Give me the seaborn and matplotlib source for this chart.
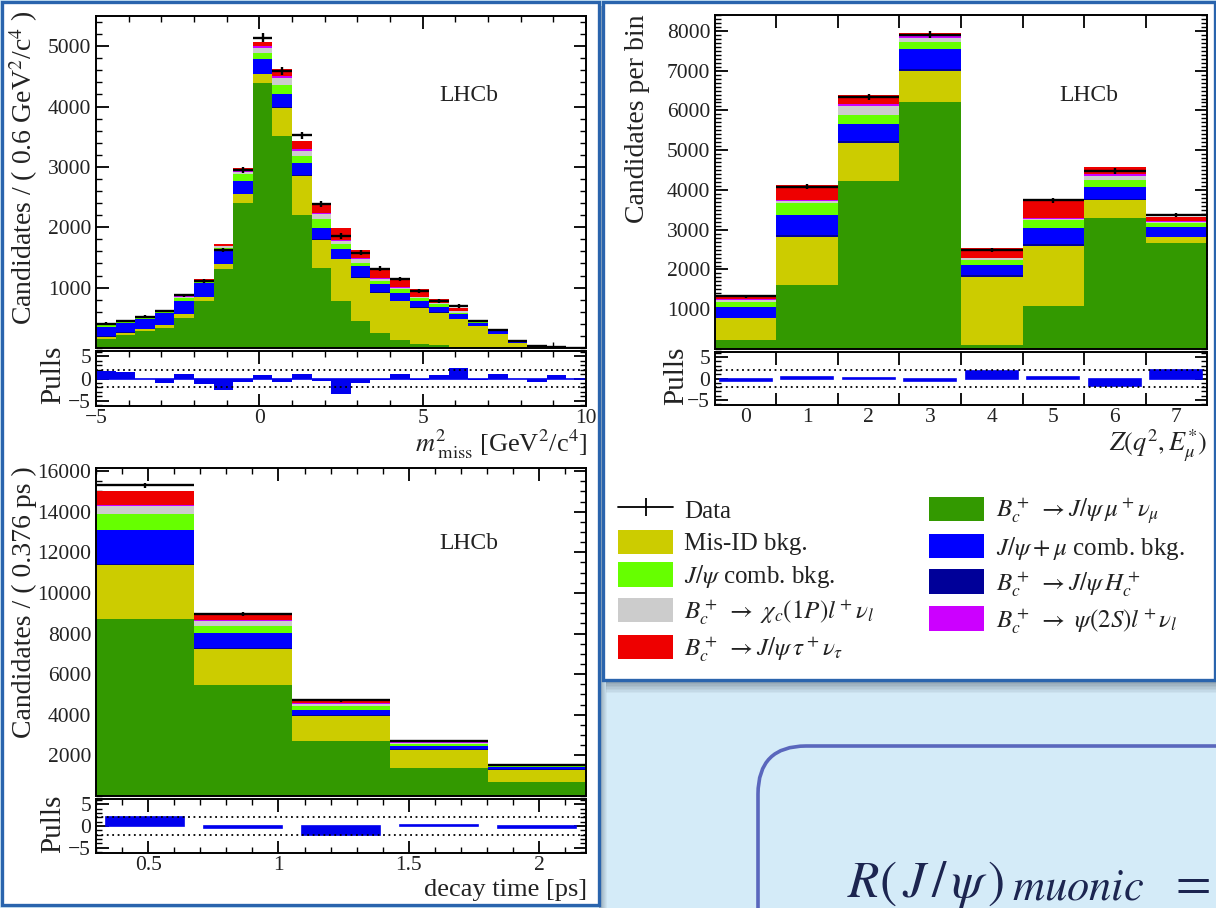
import numpy as np
import pandas as pd
import matplotlib
matplotlib.use("Agg")
import matplotlib.pyplot as plt
import seaborn as sns
from matplotlib.patches import Rectangle, FancyBboxPatch, Patch
from matplotlib.lines import Line2D
from matplotlib.ticker import MultipleLocator, FixedLocator, FuncFormatter

# ------------------------------------------------------------------ binning
mm2_edges = [round(-5.0 + 0.6 * i, 3) for i in range(26)]  # 0.6 GeV^2/c^4 bins
time_edges = [0.300, 0.676, 1.052, 1.428, 1.804, 2.180]     # 0.376 ps bins
z_edges = [-0.5, 0.5, 1.5, 2.5, 3.5, 4.5, 5.5, 6.5, 7.5]    # Z(q^2, E*_mu) bins

# ------------------------------------------------------------------ m^2_miss
mm2_mu       = [155, 210, 280, 337, 502, 778, 1303, 2407, 4394, 3511, 2197, 1330, 778, 447, 254, 132, 72, 44, 22, 11, 3, 0, 0, 0, 0]
mm2_misid    = [33, 44, 30, 38, 56, 67, 83, 138, 138, 469, 651, 458, 690, 718, 662, 646, 596, 541, 453, 353, 223, 88, 22, 5, 1]
mm2_hc       = [5, 5, 6, 6, 8, 8, 8, 10, 12, 10, 10, 10, 8, 8, 6, 6, 5, 4, 3, 2, 2, 1, 0, 0, 0]
mm2_jpsimu   = [160, 161, 170, 204, 212, 229, 240, 211, 236, 210, 211, 195, 158, 185, 132, 132, 105, 95, 80, 42, 53, 20, 6, 2, 0]
mm2_jpsicomb = [22, 25, 30, 22, 50, 27, 30, 110, 110, 149, 110, 138, 83, 55, 55, 55, 44, 39, 28, 22, 10, 5, 2, 1, 0]
mm2_chic     = [8, 10, 8, 12, 25, 12, 25, 38, 80, 127, 83, 83, 55, 55, 38, 28, 22, 17, 22, 10, 6, 3, 1, 0, 0]
mm2_psi2s    = [2, 3, 2, 3, 5, 3, 5, 10, 28, 38, 38, 28, 15, 15, 10, 8, 5, 4, 5, 3, 2, 1, 0, 0, 0]
mm2_tau      = [5, 5, 4, 8, 31, 13, 34, 51, 69, 101, 128, 154, 206, 140, 173, 141, 122, 62, 55, 20, 10, 3, 2, 0, 0]
mm2_data     = [405, 447, 519, 613, 872, 1110, 1623, 2948, 5139, 4587, 3522, 2379, 1855, 1579, 1314, 1137, 944, 778, 695, 447, 292, 116, 33, 11, 2]
mm2_pulls    = [1.7, 1.4, -0.1, -1.0, 1.0, -1.2, -2.5, -0.7, 0.8, -0.9, 1.0, -0.5, -3.4, -1.0, -0.3, 1.1, -0.4, 0.7, 2.3, -0.3, 1.0, -0.1, -0.7, 0.7, 0.0]

# ------------------------------------------------------------------ decay time
time_mu       = [8710, 5450, 2700, 1400, 700]
time_misid    = [2650, 1810, 1260, 880, 600]
time_hc       = [60, 40, 30, 20, 15]
time_jpsimu   = [1700, 730, 250, 150, 110]
time_jpsicomb = [770, 320, 180, 110, 60]
time_chic     = [380, 250, 120, 60, 30]
time_psi2s    = [60, 50, 30, 15, 10]
time_tau      = [700, 340, 200, 65, 25]
time_data     = [15300, 8950, 4720, 2700, 1540]
time_pulls    = [2.0, -0.5, -2.0, 0.2, -0.5]

# ------------------------------------------------------------------ Z(q^2, E*_mu)
z_mu       = [230, 1610, 4225, 6220, 100, 1080, 3285, 2655]
z_misid    = [540, 1215, 965, 780, 1720, 1510, 460, 150]
z_hc       = [20, 40, 40, 40, 30, 40, 40, 20]
z_jpsimu   = [275, 505, 430, 500, 265, 405, 295, 250]
z_jpsicomb = [125, 293, 225, 190, 125, 210, 170, 85]
z_chic     = [50, 60, 226, 100, 40, 30, 100, 40]
z_psi2s    = [15, 30, 60, 30, 20, 20, 40, 15]
z_tau      = [100, 370, 215, 95, 240, 470, 195, 115]
z_data     = [1330, 4080, 6345, 7900, 2500, 3740, 4480, 3370]
z_pulls    = [-0.6, 0.3, 0.2, -0.7, 1.7, 0.3, -1.8, 2.1]

# ------------------------------------------------------------------ style
COLORS = {
    "mu": "#339900", "misid": "#cccc00", "hc": "#000099", "jpsimu": "#0000ff",
    "jpsicomb": "#66ff00", "chic": "#cccccc", "psi2s": "#cc00ff", "tau": "#ee0000",
}
# listed from top of the stack to bottom
STACK_TOP_DOWN = ["tau", "psi2s", "chic", "jpsicomb", "jpsimu", "hc", "misid", "mu"]
PULL_BLUE = "#0000ee"
SLIDE_BG = "#d4ebf8"
FRAME_BLUE = "#2a64ad"
FORMULA_INK = "#1c2550"

sns.set_style("ticks")
plt.rcParams.update({
    "font.family": ["serif"],
    "font.serif": ["Liberation Serif", "DejaVu Serif"],
    "mathtext.fontset": "stix",
    "axes.linewidth": 1.4,
    "axes.edgecolor": "black",
    "text.color": "#222222",
    "xtick.color": "black",
    "ytick.color": "black",
    "xtick.labelcolor": "#222222",
    "ytick.labelcolor": "#222222",
})

W, H = 1216, 908
fig = plt.figure(figsize=(W / 100, H / 100), dpi=100, facecolor=SLIDE_BG)


def px_rect(x0, y0, x1, y1):
    return [x0 / W, 1 - y1 / H, (x1 - x0) / W, (y1 - y0) / H]


# background layer in pixel units for the slide decorations
bg = fig.add_axes([0, 0, 1, 1], zorder=-10)
bg.set_xlim(0, W)
bg.set_ylim(H, 0)
bg.axis("off")
bg.add_patch(Rectangle((0, 0), W, H, fc=SLIDE_BG, ec="none"))
# drop shadows
for i, a in enumerate(np.linspace(0.45, 0.05, 8)):
    bg.add_patch(Rectangle((599 + i, 6), 1, 902, fc="#3a4a5a", ec="none", alpha=a))
    bg.add_patch(Rectangle((606, 681 + 1.5 * i), 610, 1.5, fc="#3a4a5a", ec="none", alpha=a))
bg.add_patch(Rectangle((1.5, 1.5), 597, 903.5, fc="white", ec=FRAME_BLUE, lw=2.4))
bg.add_patch(Rectangle((603, 1.5), 612, 678, fc="white", ec=FRAME_BLUE, lw=2.4))
bg.add_patch(FancyBboxPatch((758, 746), 700, 400, boxstyle="round,pad=0,rounding_size=48",
                            fc=SLIDE_BG, ec="#5a67bd", lw=2.6))
# formula on the slide, set piece by piece
bg.text(847, 897, r"$R(\,J\,/\,\psi\,)$", fontsize=37, color=FORMULA_INK, ha="left", va="baseline")
bg.text(1012, 900, r"$muonic$", fontsize=32, color=FORMULA_INK, ha="left", va="baseline")
bg.text(1168, 897, r"$=$", fontsize=37, color=FORMULA_INK, ha="left", va="baseline")


def centers_of(edges):
    return [0.5 * (a + b) for a, b in zip(edges[:-1], edges[1:])]


def draw_stack(ax, edges, comps, data):
    centers = centers_of(edges)
    rows = [(c, name, v) for name, vals in comps.items() for c, v in zip(centers, vals)]
    df = pd.DataFrame(rows, columns=["x", "comp", "n"])
    sns.histplot(data=df, x="x", weights="n", hue="comp", hue_order=STACK_TOP_DOWN,
                 bins=list(edges), multiple="stack", element="step", fill=True, alpha=1,
                 linewidth=0, palette=COLORS, legend=False, ax=ax)
    half = [0.5 * (b - a) for a, b in zip(edges[:-1], edges[1:])]
    d = np.asarray(data, dtype=float)
    ax.errorbar(centers, d, xerr=half, yerr=np.sqrt(d), fmt="none", ecolor="black",
                elinewidth=1.7, capsize=0, zorder=5)


def draw_pulls(ax, edges, pulls, shrink):
    dfp = pd.DataFrame({"x": centers_of(edges), "p": pulls})
    if shrink >= 1:
        sns.histplot(data=dfp, x="x", weights="p", bins=list(edges), element="step", fill=True,
                     color=PULL_BLUE, alpha=1, linewidth=0, ax=ax)
        ax.axhline(0, color=PULL_BLUE, lw=1.2, zorder=1)
    else:
        sns.histplot(data=dfp, x="x", weights="p", bins=list(edges), element="bars", shrink=shrink,
                     fill=True, color=PULL_BLUE, alpha=1, edgecolor=PULL_BLUE, linewidth=1.2, ax=ax)
    for lvl in (-2, 2):
        ax.axhline(lvl, color="black", lw=1.3, ls=(0, (1, 2)), zorder=3)
    ax.set_ylim(-6.2, 6.2)
    ax.yaxis.set_major_locator(FixedLocator([-5, 0, 5]))
    ax.yaxis.set_minor_locator(MultipleLocator(1))


def root_ticks(ax):
    ax.tick_params(which="both", direction="in", top=True, right=True, labelsize=15.5)
    ax.tick_params(which="major", length=9, width=1.3)
    ax.tick_params(which="minor", length=4.5, width=1.0)
    ax.set_xlabel("")
    ax.set_ylabel("")


fmt_g = FuncFormatter(lambda v, p: f"{v:g}".replace("-", "\u2212"))

# ------------------------------------------------------------------ m^2_miss panel
ax1 = fig.add_axes(px_rect(96, 16, 586, 348))
draw_stack(ax1, mm2_edges,
           {"mu": mm2_mu, "misid": mm2_misid, "hc": mm2_hc, "jpsimu": mm2_jpsimu,
            "jpsicomb": mm2_jpsicomb, "chic": mm2_chic, "psi2s": mm2_psi2s, "tau": mm2_tau},
           mm2_data)
ax1.set_xlim(-5, 10)
ax1.set_ylim(0, 5500)
ax1.xaxis.set_major_locator(MultipleLocator(5))
ax1.xaxis.set_minor_locator(MultipleLocator(1))
ax1.yaxis.set_major_locator(FixedLocator([1000, 2000, 3000, 4000, 5000]))
ax1.yaxis.set_minor_locator(MultipleLocator(200))
root_ticks(ax1)
ax1.tick_params(labelbottom=False)
ax1.text(0.76, 0.76, "LHCb", transform=ax1.transAxes, fontsize=17, ha="center", va="center")

ax1p = fig.add_axes(px_rect(96, 351, 586, 406))
draw_pulls(ax1p, mm2_edges, mm2_pulls, 1.0)
ax1p.set_xlim(-5, 10)
ax1p.xaxis.set_major_locator(MultipleLocator(5))
ax1p.xaxis.set_minor_locator(MultipleLocator(1))
ax1p.xaxis.set_major_formatter(fmt_g)
root_ticks(ax1p)
ax1p.tick_params(axis="x", which="major", pad=2)

# ------------------------------------------------------------------ decay-time panel
ax2 = fig.add_axes(px_rect(96, 468, 586, 796))
draw_stack(ax2, time_edges,
           {"mu": time_mu, "misid": time_misid, "hc": time_hc, "jpsimu": time_jpsimu,
            "jpsicomb": time_jpsicomb, "chic": time_chic, "psi2s": time_psi2s, "tau": time_tau},
           time_data)
ax2.set_xlim(time_edges[0], time_edges[-1])
ax2.set_ylim(0, 16150)
ax2.xaxis.set_major_locator(MultipleLocator(0.5))
ax2.xaxis.set_minor_locator(MultipleLocator(0.1))
ax2.yaxis.set_major_locator(FixedLocator(list(range(2000, 16001, 2000))))
ax2.yaxis.set_minor_locator(MultipleLocator(500))
root_ticks(ax2)
ax2.tick_params(labelbottom=False)
ax2.text(0.76, 0.77, "LHCb", transform=ax2.transAxes, fontsize=17, ha="center", va="center")

ax2p = fig.add_axes(px_rect(96, 799, 586, 853))
draw_pulls(ax2p, time_edges, time_pulls, 0.8)
ax2p.set_xlim(time_edges[0], time_edges[-1])
ax2p.xaxis.set_major_locator(MultipleLocator(0.5))
ax2p.xaxis.set_minor_locator(MultipleLocator(0.1))
ax2p.xaxis.set_major_formatter(fmt_g)
root_ticks(ax2p)
ax2p.tick_params(axis="x", which="major", pad=2)

# ------------------------------------------------------------------ Z panel
ax3 = fig.add_axes(px_rect(715, 15, 1207, 349))
draw_stack(ax3, z_edges,
           {"mu": z_mu, "misid": z_misid, "hc": z_hc, "jpsimu": z_jpsimu,
            "jpsicomb": z_jpsicomb, "chic": z_chic, "psi2s": z_psi2s, "tau": z_tau},
           z_data)
ax3.set_xlim(z_edges[0], z_edges[-1])
ax3.set_ylim(0, 8400)
ax3.xaxis.set_major_locator(FixedLocator(z_edges[1:-1]))
ax3.xaxis.set_minor_locator(FixedLocator([]))
ax3.yaxis.set_major_locator(FixedLocator(list(range(1000, 8001, 1000))))
ax3.yaxis.set_minor_locator(MultipleLocator(100))
root_ticks(ax3)
ax3.tick_params(labelbottom=False)
ax3.text(0.76, 0.76, "LHCb", transform=ax3.transAxes, fontsize=17, ha="center", va="center")

ax3p = fig.add_axes(px_rect(715, 352, 1207, 405))
draw_pulls(ax3p, z_edges, z_pulls, 0.85)
ax3p.set_xlim(z_edges[0], z_edges[-1])
root_ticks(ax3p)
ax3p.xaxis.set_major_locator(FixedLocator(z_edges[1:-1]))
ax3p.xaxis.set_major_formatter(FuncFormatter(lambda v, p: ""))
ax3p.xaxis.set_minor_locator(FixedLocator(centers_of(z_edges)))
ax3p.xaxis.set_minor_formatter(FuncFormatter(lambda v, p: f"{v:g}"))
ax3p.tick_params(axis="x", which="minor", length=0, labelsize=15.5, pad=2)

# ------------------------------------------------------------------ axis titles
def ytitle(x, y_top, text, size=20):
    fig.text(x / W, 1 - y_top / H, text, rotation=90, ha="center", va="top", fontsize=size)


ytitle(24, 10, r"Candidates / ( 0.6 GeV$^{2}$/c$^{4}$ )")
ytitle(53, 346, "Pulls", 21)
ytitle(24, 466, "Candidates / ( 0.376 ps )")
ytitle(53, 795, "Pulls", 21)
ytitle(637, 14, "Candidates per bin")
ytitle(676, 347, "Pulls", 21)

fig.text(587 / W, 1 - 452 / H, r"$m^{2}_{\;\mathrm{miss}}$ [GeV$^{2}$/c$^{4}$]", ha="right",
         va="baseline", fontsize=19)
fig.text(587 / W, 1 - 896 / H, "decay time [ps]", ha="right", va="baseline", fontsize=19)
fig.text(1207 / W, 1 - 451 / H, r"$Z(q^{2},E^{*}_{\mu})$", ha="right", va="baseline", fontsize=19)

# ------------------------------------------------------------------ legend
labels = {
    "mu": r"$B_c^+\ \rightarrow J/\psi\,\mu^+\nu_\mu$",
    "misid": "Mis-ID bkg.",
    "hc": r"$B_c^+\ \rightarrow J/\psi\,H_c^+$",
    "jpsimu": r"$J/\psi+\mu$ comb. bkg.",
    "jpsicomb": r"$J/\psi$ comb. bkg.",
    "chic": r"$B_c^+\ \rightarrow\ \chi_c(1P)l^+\nu_l$",
    "psi2s": r"$B_c^+\ \rightarrow\ \psi(2S)l^+\nu_l$",
    "tau": r"$B_c^+\ \rightarrow J/\psi\,\tau^+\nu_\tau$",
}
handles = [Line2D([0], [0], color="black", lw=1.3, marker="|", markersize=13, markeredgewidth=1.3)]
names = ["Data"]
for key in ["misid", "jpsicomb", "chic", "tau", "mu", "jpsimu", "hc", "psi2s"]:
    handles.append(Patch(fc=COLORS[key], ec="none"))
    names.append(labels[key])
fig.legend(handles, names, loc="upper left", bbox_to_anchor=(618 / W, 1 - 496 / H), ncol=2,
           frameon=False, fontsize=18, handlelength=2.2, handleheight=1.12, labelspacing=0.28,
           columnspacing=2.2, handletextpad=0.45, borderaxespad=0, borderpad=0)

fig.savefig("out.png", dpi=100, facecolor=SLIDE_BG)
